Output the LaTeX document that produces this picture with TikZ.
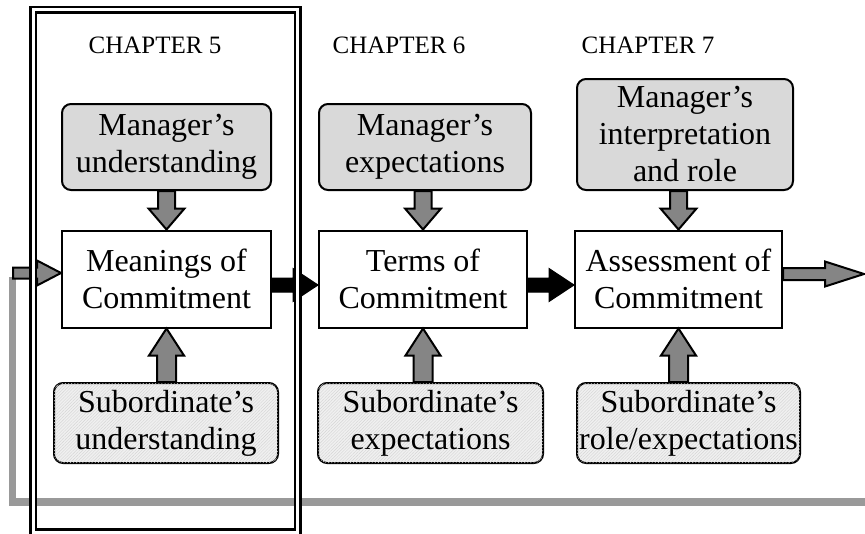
\documentclass[tikz,border=0pt]{standalone}
\usepackage{fontspec}
\setmainfont{Liberation Serif}
\usetikzlibrary{calc,patterns.meta}

\definecolor{mgrfill}{HTML}{D9D9D9}
\definecolor{subfill}{HTML}{F0F0F0}
\definecolor{hatchgray}{HTML}{D4D4D4}
\definecolor{arrowgray}{HTML}{858585}
\definecolor{loopgray}{HTML}{999999}

% Block arrow from #2 to #3: shaft half-width #4, head half-width #5, head length #6
\newcommand\blockarrow[6][]{%
  \path (#2); \pgfgetlastxy\arxa\arya
  \path (#3); \pgfgetlastxy\arxb\aryb
  \pgfmathsetmacro\arlen{veclen(\arxb-\arxa,\aryb-\arya)}%
  \pgfmathsetmacro\arang{atan2(\aryb-\arya,\arxb-\arxa)}%
  \begin{scope}[shift={(\arxa,\arya)}, rotate=\arang, x=1pt, y=1pt]
    \draw[#1] (0,-#4) -- (\arlen-#6,-#4) -- (\arlen-#6,-#5) -- (\arlen,0)
      -- (\arlen-#6,#5) -- (\arlen-#6,#4) -- (0,#4) -- cycle;
  \end{scope}}

\tikzset{
  boxtext/.style={font=\fontsize{32}{37}\selectfont, align=center, inner sep=0pt},
  corebox/.style={boxtext, draw, line width=2pt, fill=white},
  mgrbox/.style={boxtext, draw, line width=2pt, rounded corners=9pt, fill=mgrfill},
  subbox/.style={boxtext, draw, line width=2pt, rounded corners=9pt, fill=subfill,
    postaction={pattern={Lines[angle=45,distance=2.2pt,line width=0.4pt]}, pattern color=hatchgray}},
  chaplabel/.style={font=\fontsize{25}{30}\selectfont, inner sep=0pt},
  grayarrow/.style={draw=black, line width=2pt, fill=arrowgray, line join=miter},
  blackarrow/.style={draw=black, line width=1pt, fill=black, line join=miter},
  loopline/.style={draw=loopgray, line width=7.5pt},
  chapframe/.style={draw=black, line width=2.5pt, double=white, double distance=3pt}
}

\begin{document}
\begin{tikzpicture}[x=1pt, y=-1pt]
  \useasboundingbox (0,0) rectangle (865,533);
  \clip (0,0) rectangle (865,533);

  % chapter headings
  \node[chaplabel] (c5) at (155,45) {CHAPTER 5};
  \node[chaplabel] (c6) at (399,45) {CHAPTER 6};
  \node[chaplabel] (c7) at (648,45) {CHAPTER 7};

  % chapter 5 column
  \node[mgrbox, minimum width=209pt, minimum height=86pt] (mu1) at (166.5,147) {Manager’s\\understanding};
  \node[corebox, minimum width=209pt, minimum height=97pt] (m1) at (166.5,279) {Meanings of\\Commitment};
  \node[subbox, minimum width=224pt, minimum height=80pt] (s1) at (166,423) {Subordinate’s\\understanding};

  % chapter 6 column
  \node[mgrbox, minimum width=212pt, minimum height=86pt] (mu2) at (425,147) {Manager’s\\expectations};
  \node[corebox, minimum width=208pt, minimum height=97pt] (m2) at (423,279) {Terms of\\Commitment};
  \node[subbox, minimum width=225pt, minimum height=80pt] (s2) at (430.5,423) {Subordinate’s\\expectations};

  % chapter 7 column
  \node[mgrbox, minimum width=216pt, minimum height=111pt] (mu3) at (685,134.5) {Manager’s\\interpretation\\and role};
  \node[corebox, minimum width=207pt, minimum height=97pt] (m3) at (678.5,279) {Assessment of\\Commitment};
  \node[subbox, minimum width=223pt, minimum height=80pt] (s3) at (688.5,423) {Subordinate’s\\role/expectations};

  % feedback loop back into the first stage
  \coordinate (fb) at (13,273);
  \coordinate (fbin) at (m1.west |- fb);
  \coordinate (loopend) at (870,502);
  \draw[loopline] ($(fb)+(-0.5,4)$) |- (loopend);
  \blockarrow[grayarrow]{fb}{fbin}{5.5}{12.5}{24}

  % manager inputs (kept vertical above each stage box)
  \blockarrow[grayarrow]{m1.north |- mu1.south}{m1.north}{8.5}{18}{21}
  \blockarrow[grayarrow]{m2.north |- mu2.south}{m2.north}{8.5}{18}{21}
  \blockarrow[grayarrow]{m3.north |- mu3.south}{m3.north}{8.5}{18}{21}

  % subordinate inputs
  \blockarrow[grayarrow]{m1.south |- s1.north}{m1.south}{9.5}{17.5}{27}
  \blockarrow[grayarrow]{m2.south |- s2.north}{m2.south}{9.5}{17.5}{27}
  \blockarrow[grayarrow]{m3.south |- s3.north}{m3.south}{9.5}{17.5}{27}

  % flow between stages
  \coordinate (k1) at ($(m1.east)+(0,6)$);
  \coordinate (k2) at (m2.west |- k1);
  \coordinate (k3) at ($(m2.east)+(0,6)$);
  \coordinate (k4) at (m3.west |- k3);
  \blockarrow[blackarrow]{k1}{k2}{7}{16.5}{25}
  \blockarrow[blackarrow]{k3}{k4}{7}{16.5}{25}

  % outgoing arrow
  \coordinate (o1) at ($(m3.east)+(0,-5)$);
  \coordinate (o2) at (864,274);
  \blockarrow[grayarrow]{o1}{o2}{6}{12.5}{39}

  % double frame round chapter 5
  \path[chapframe] (33,9.5) rectangle (297.5,532);
\end{tikzpicture}
\end{document}
